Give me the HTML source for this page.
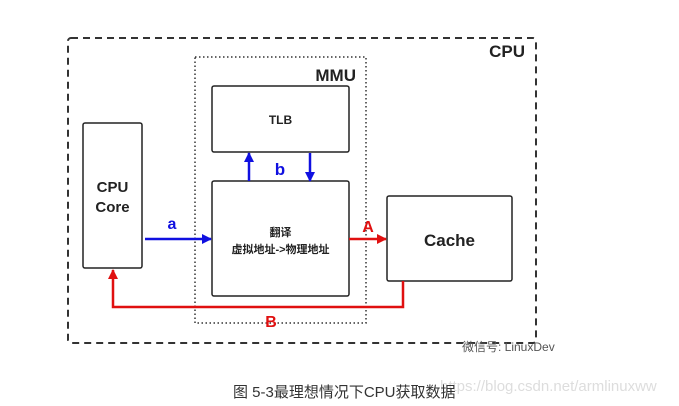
<!DOCTYPE html>
<html><head><meta charset="utf-8"><style>
body{margin:0;background:#fff;width:679px;height:401px;overflow:hidden}
</style></head><body>
<svg width="679" height="401" viewBox="0 0 679 401" xmlns="http://www.w3.org/2000/svg" font-family="'Liberation Sans','Noto Sans CJK SC',sans-serif">
<defs>
<marker id="ab" markerWidth="10" markerHeight="10" refX="9" refY="5" orient="auto" markerUnits="userSpaceOnUse"><path d="M0,0 L10,5 L0,10z" fill="#1010e0"/></marker>
<marker id="ar" markerWidth="10" markerHeight="10" refX="9" refY="5" orient="auto" markerUnits="userSpaceOnUse"><path d="M0,0 L10,5 L0,10z" fill="#e01010"/></marker>
</defs>
<rect x="68" y="38" width="468" height="305" rx="3" fill="none" stroke="#333" stroke-width="2" stroke-dasharray="7,5"/>
<text x="525" y="57" font-size="17" font-weight="bold" text-anchor="end" fill="#222">CPU</text>
<rect x="195" y="57" width="171" height="266" fill="none" stroke="#333" stroke-width="1.5" stroke-dasharray="1.5,2.5"/>
<text x="356" y="81" font-size="17" font-weight="bold" text-anchor="end" fill="#222">MMU</text>
<rect x="212" y="86" width="137" height="66" rx="2" fill="#fff" stroke="#222" stroke-width="1.5"/>
<text x="280.5" y="124" font-size="12" font-weight="bold" text-anchor="middle" fill="#222">TLB</text>
<rect x="212" y="181" width="137" height="115" rx="2" fill="#fff" stroke="#222" stroke-width="1.5"/>
<text x="280.5" y="236" font-size="11" font-weight="bold" text-anchor="middle" fill="#222">翻译</text>
<text x="280.5" y="253" font-size="11" font-weight="bold" text-anchor="middle" fill="#222">虚拟地址-&gt;物理地址</text>
<rect x="83" y="123" width="59" height="145" rx="2" fill="#fff" stroke="#222" stroke-width="1.5"/>
<text x="112.5" y="192" font-size="15" font-weight="bold" text-anchor="middle" fill="#222">CPU</text>
<text x="112.5" y="212" font-size="15" font-weight="bold" text-anchor="middle" fill="#222">Core</text>
<rect x="387" y="196" width="125" height="85" rx="2" fill="#fff" stroke="#222" stroke-width="1.5"/>
<text x="449.5" y="246" font-size="17" font-weight="bold" text-anchor="middle" fill="#222">Cache</text>
<line x1="145" y1="239" x2="211" y2="239" stroke="#1010e0" stroke-width="2.5" marker-end="url(#ab)"/>
<text x="172" y="229" font-size="16" font-weight="bold" text-anchor="middle" fill="#1010e0">a</text>
<line x1="249" y1="181" x2="249" y2="153" stroke="#1010e0" stroke-width="2.5" marker-end="url(#ab)"/>
<line x1="310" y1="153" x2="310" y2="181" stroke="#1010e0" stroke-width="2.5" marker-end="url(#ab)"/>
<text x="280" y="175" font-size="17" font-weight="bold" text-anchor="middle" fill="#1010e0">b</text>
<line x1="349" y1="239" x2="386" y2="239" stroke="#e01010" stroke-width="2.5" marker-end="url(#ar)"/>
<text x="368" y="232" font-size="16" font-weight="bold" text-anchor="middle" fill="#e01010">A</text>
<polyline points="403,281 403,307 113,307 113,270" fill="none" stroke="#e01010" stroke-width="2.5" marker-end="url(#ar)"/>
<text x="271" y="327" font-size="16" font-weight="bold" text-anchor="middle" fill="#e01010">B</text>
<text x="462" y="351" font-size="12" fill="#555">微信号: LinuxDev</text>
<text x="440" y="391" font-size="15" fill="#ddd">https://blog.csdn.net/armlinuxww</text>
<text x="233" y="397" font-size="15" fill="#333">图 5-3最理想情况下CPU获取数据</text>
</svg>
</body></html>
